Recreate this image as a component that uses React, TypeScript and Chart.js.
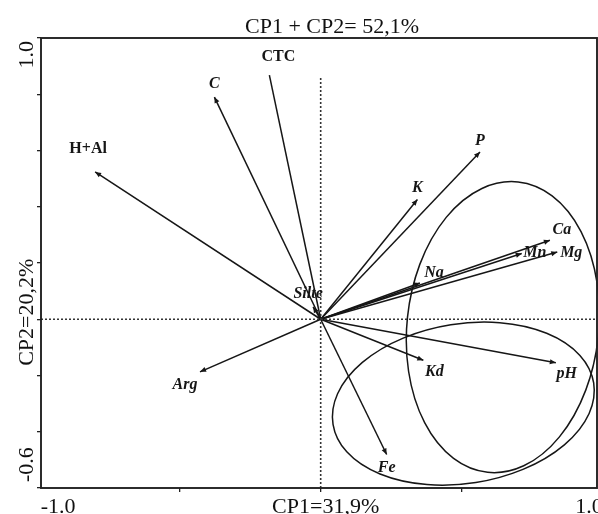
import React, { useEffect, useRef } from "react";
import { Chart, registerables } from "chart.js";

Chart.register(...registerables);

// ---- data ----
const variables = ["H+Al", "C", "CTC", "P", "K", "Ca", "Mg", "Mn", "Na", "Silte", "Kd", "pH", "Fe", "Arg"];
const cp1Loadings = [-0.8, -0.377, -0.182, 0.565, 0.343, 0.813, 0.839, 0.713, 0.352, -0.027, 0.364, 0.834, 0.234, -0.428];
const cp2Loadings = [0.524, 0.79, 0.868, 0.595, 0.426, 0.281, 0.239, 0.234, 0.129, 0.044, -0.146, -0.155, -0.481, -0.187];

// ellipses (data units): centre, semi-axes, tilt (degrees, counter-clockwise)
const ellipseCentreX = [0.646, 0.506];
const ellipseCentreY = [-0.028, -0.3];
const ellipseRadiusX = [0.34, 0.468];
const ellipseRadiusY = [0.519, 0.284];
const ellipseTiltDeg = [-6, 9];

const titleText = "CP1 + CP2= 52,1%";
const xTickValues = [-0.5, 0, 0.5];
const yTickValues = [-0.6, -0.4, -0.2, 0, 0.2, 0.4, 0.6, 0.8, 1.0];
const xAxisLabels = ["-1.0", "CP1=31,9%", "1.0"];
const xAxisLabelValues = [-1.0, 0, 1.0];
const yAxisLabels = ["-0.6", "CP2=20,2%", "1.0"];
const yAxisLabelValues = [-0.6, 0, 1.0];
const zeroLineTop = 0.861;

// ---- label styling (not data) ----
const labelItalic = [false, true, false, true, true, true, true, true, true, true, true, true, true, true];
const labelHead = [true, true, false, true, true, true, true, true, true, true, true, true, true, true];
const labelOffsets: [number, number][] = [
  [-7, -23], [0, -13], [9, -18], [0, -11], [0, -12], [12, -10], [14, 1],
  [13, -1], [14, -10], [-5, -13], [11, 12], [11, 11], [0, 13], [-15, 13],
];

const SERIF = "'Liberation Serif', 'Times New Roman', serif";
const INK = "#161616";

const decorPlugin = {
  id: "biplotDecor",
  beforeDatasetsDraw(chart: any) {
    const { ctx, scales } = chart;
    const xs = scales.x;
    const ys = scales.y;
    const kx = Math.abs(xs.getPixelForValue(1) - xs.getPixelForValue(0));
    const ky = Math.abs(ys.getPixelForValue(0) - ys.getPixelForValue(1));
    ctx.save();
    ctx.strokeStyle = INK;
    ctx.lineWidth = 1.5;
    for (let i = 0; i < ellipseCentreX.length; i++) {
      ctx.beginPath();
      ctx.ellipse(
        xs.getPixelForValue(ellipseCentreX[i]),
        ys.getPixelForValue(ellipseCentreY[i]),
        ellipseRadiusX[i] * kx,
        ellipseRadiusY[i] * ky,
        (-ellipseTiltDeg[i] * Math.PI) / 180,
        0,
        Math.PI * 2
      );
      ctx.stroke();
    }
    ctx.restore();
  },
  afterDatasetsDraw(chart: any) {
    const { ctx, scales } = chart;
    const xs = scales.x;
    const ys = scales.y;
    const ox = xs.getPixelForValue(0);
    const oy = ys.getPixelForValue(0);
    ctx.save();
    ctx.fillStyle = INK;
    for (let i = 0; i < variables.length; i++) {
      const tx = xs.getPixelForValue(cp1Loadings[i]);
      const ty = ys.getPixelForValue(cp2Loadings[i]);
      if (labelHead[i]) {
        const ang = Math.atan2(ty - oy, tx - ox);
        const len = 6;
        const hw = 2.6;
        const bx = tx - len * Math.cos(ang);
        const by = ty - len * Math.sin(ang);
        ctx.beginPath();
        ctx.moveTo(tx, ty);
        ctx.lineTo(bx - hw * Math.sin(ang), by + hw * Math.cos(ang));
        ctx.lineTo(bx + hw * Math.sin(ang), by - hw * Math.cos(ang));
        ctx.closePath();
        ctx.fill();
      }
      ctx.font = `${labelItalic[i] ? "italic " : ""}bold 16px ${SERIF}`;
      ctx.textAlign = "center";
      ctx.textBaseline = "middle";
      ctx.fillText(variables[i], tx + labelOffsets[i][0], ty + labelOffsets[i][1]);
    }
    ctx.restore();
  },
  afterDraw(chart: any) {
    const { ctx, chartArea: a, scales } = chart;
    const xs = scales.x;
    const ys = scales.y;
    ctx.save();
    // frame
    ctx.strokeStyle = "#222";
    ctx.lineWidth = 1.9;
    ctx.strokeRect(a.left, a.top, a.right - a.left, a.bottom - a.top);

    ctx.fillStyle = "#111";
    ctx.font = `22px ${SERIF}`;
    // title
    ctx.textAlign = "center";
    ctx.textBaseline = "alphabetic";
    ctx.fillText(titleText, 332, 33);

    // x axis texts
    for (let i = 0; i < xAxisLabels.length; i++) {
      const px = xs.getPixelForValue(xAxisLabelValues[i]);
      if (i === 0) {
        ctx.textAlign = "left";
        ctx.fillText(xAxisLabels[i], px + 2, 513);
      } else if (i === xAxisLabels.length - 1) {
        ctx.textAlign = "right";
        ctx.fillText(xAxisLabels[i], px, 513);
      } else {
        ctx.textAlign = "center";
        ctx.fillText(xAxisLabels[i], px + 5, 513);
      }
    }

    // y axis texts (rotated)
    for (let i = 0; i < yAxisLabels.length; i++) {
      const py = ys.getPixelForValue(yAxisLabelValues[i]);
      ctx.save();
      let anchorY = py;
      let align: CanvasTextAlign = "center";
      if (i === 0) {
        align = "left";
        anchorY = py - 6;
      } else if (i === yAxisLabels.length - 1) {
        align = "right";
        anchorY = py + 3;
      } else {
        anchorY = py - 7;
      }
      ctx.translate(33, anchorY);
      ctx.rotate(-Math.PI / 2);
      ctx.textAlign = align;
      ctx.textBaseline = "alphabetic";
      ctx.fillText(yAxisLabels[i], 0, 0);
      ctx.restore();
    }
    ctx.restore();
  },
};

export default function App() {
  const canvasRef = useRef<HTMLCanvasElement | null>(null);

  useEffect(() => {
    document.body.style.margin = "0";
    const canvas = canvasRef.current;
    if (!canvas) return;

    const arrowSets = variables.map((v, i) => ({
      label: v,
      data: [
        { x: 0, y: 0 },
        { x: cp1Loadings[i], y: cp2Loadings[i] },
      ],
      showLine: true,
      borderColor: INK,
      borderWidth: 1.5,
      pointRadius: 0,
      pointHoverRadius: 0,
    }));

    const zeroSets = [
      {
        label: "zeroH",
        data: [
          { x: -0.992, y: 0 },
          { x: 0.98, y: 0 },
        ],
        showLine: true,
        borderColor: "#333",
        borderWidth: 1.6,
        borderDash: [2, 2],
        pointRadius: 0,
      },
      {
        label: "zeroV",
        data: [
          { x: 0, y: -0.6 },
          { x: 0, y: zeroLineTop },
        ],
        showLine: true,
        borderColor: "#333",
        borderWidth: 1.6,
        borderDash: [2, 2],
        pointRadius: 0,
      },
    ];

    const chart = new Chart(canvas, {
      type: "scatter",
      data: { datasets: [...zeroSets, ...arrowSets] as any },
      options: {
        animation: false,
        responsive: false,
        devicePixelRatio: 1,
        layout: { padding: { top: 38, right: 1, left: 0, bottom: 0 } },
        plugins: {
          legend: { display: false },
          tooltip: { enabled: false },
          title: { display: false },
        },
        events: [],
        scales: {
          x: {
            type: "linear",
            min: -0.992,
            max: 0.98,
            ticks: { display: false },
            border: { display: false },
            grid: {
              drawOnChartArea: false,
              drawTicks: true,
              tickLength: 4,
              color: "#222",
              lineWidth: 1.3,
            },
            afterBuildTicks: (scale: any) => {
              scale.ticks = xTickValues.map((v) => ({ value: v }));
            },
            afterFit: (scale: any) => {
              scale.height = 26;
            },
          },
          y: {
            type: "linear",
            min: -0.6,
            max: 1.0,
            ticks: { display: false },
            border: { display: false },
            grid: {
              drawOnChartArea: false,
              drawTicks: true,
              tickLength: 4,
              color: "#222",
              lineWidth: 1.3,
            },
            afterBuildTicks: (scale: any) => {
              scale.ticks = yTickValues.map((v) => ({ value: v }));
            },
            afterFit: (scale: any) => {
              scale.width = 41;
            },
          },
        },
      } as any,
      plugins: [decorPlugin],
    });

    return () => chart.destroy();
  }, []);

  return (
    <div style={{ width: 598, height: 514, background: "#fff" }}>
      <canvas ref={canvasRef} width={598} height={514} style={{ display: "block" }} />
    </div>
  );
}
